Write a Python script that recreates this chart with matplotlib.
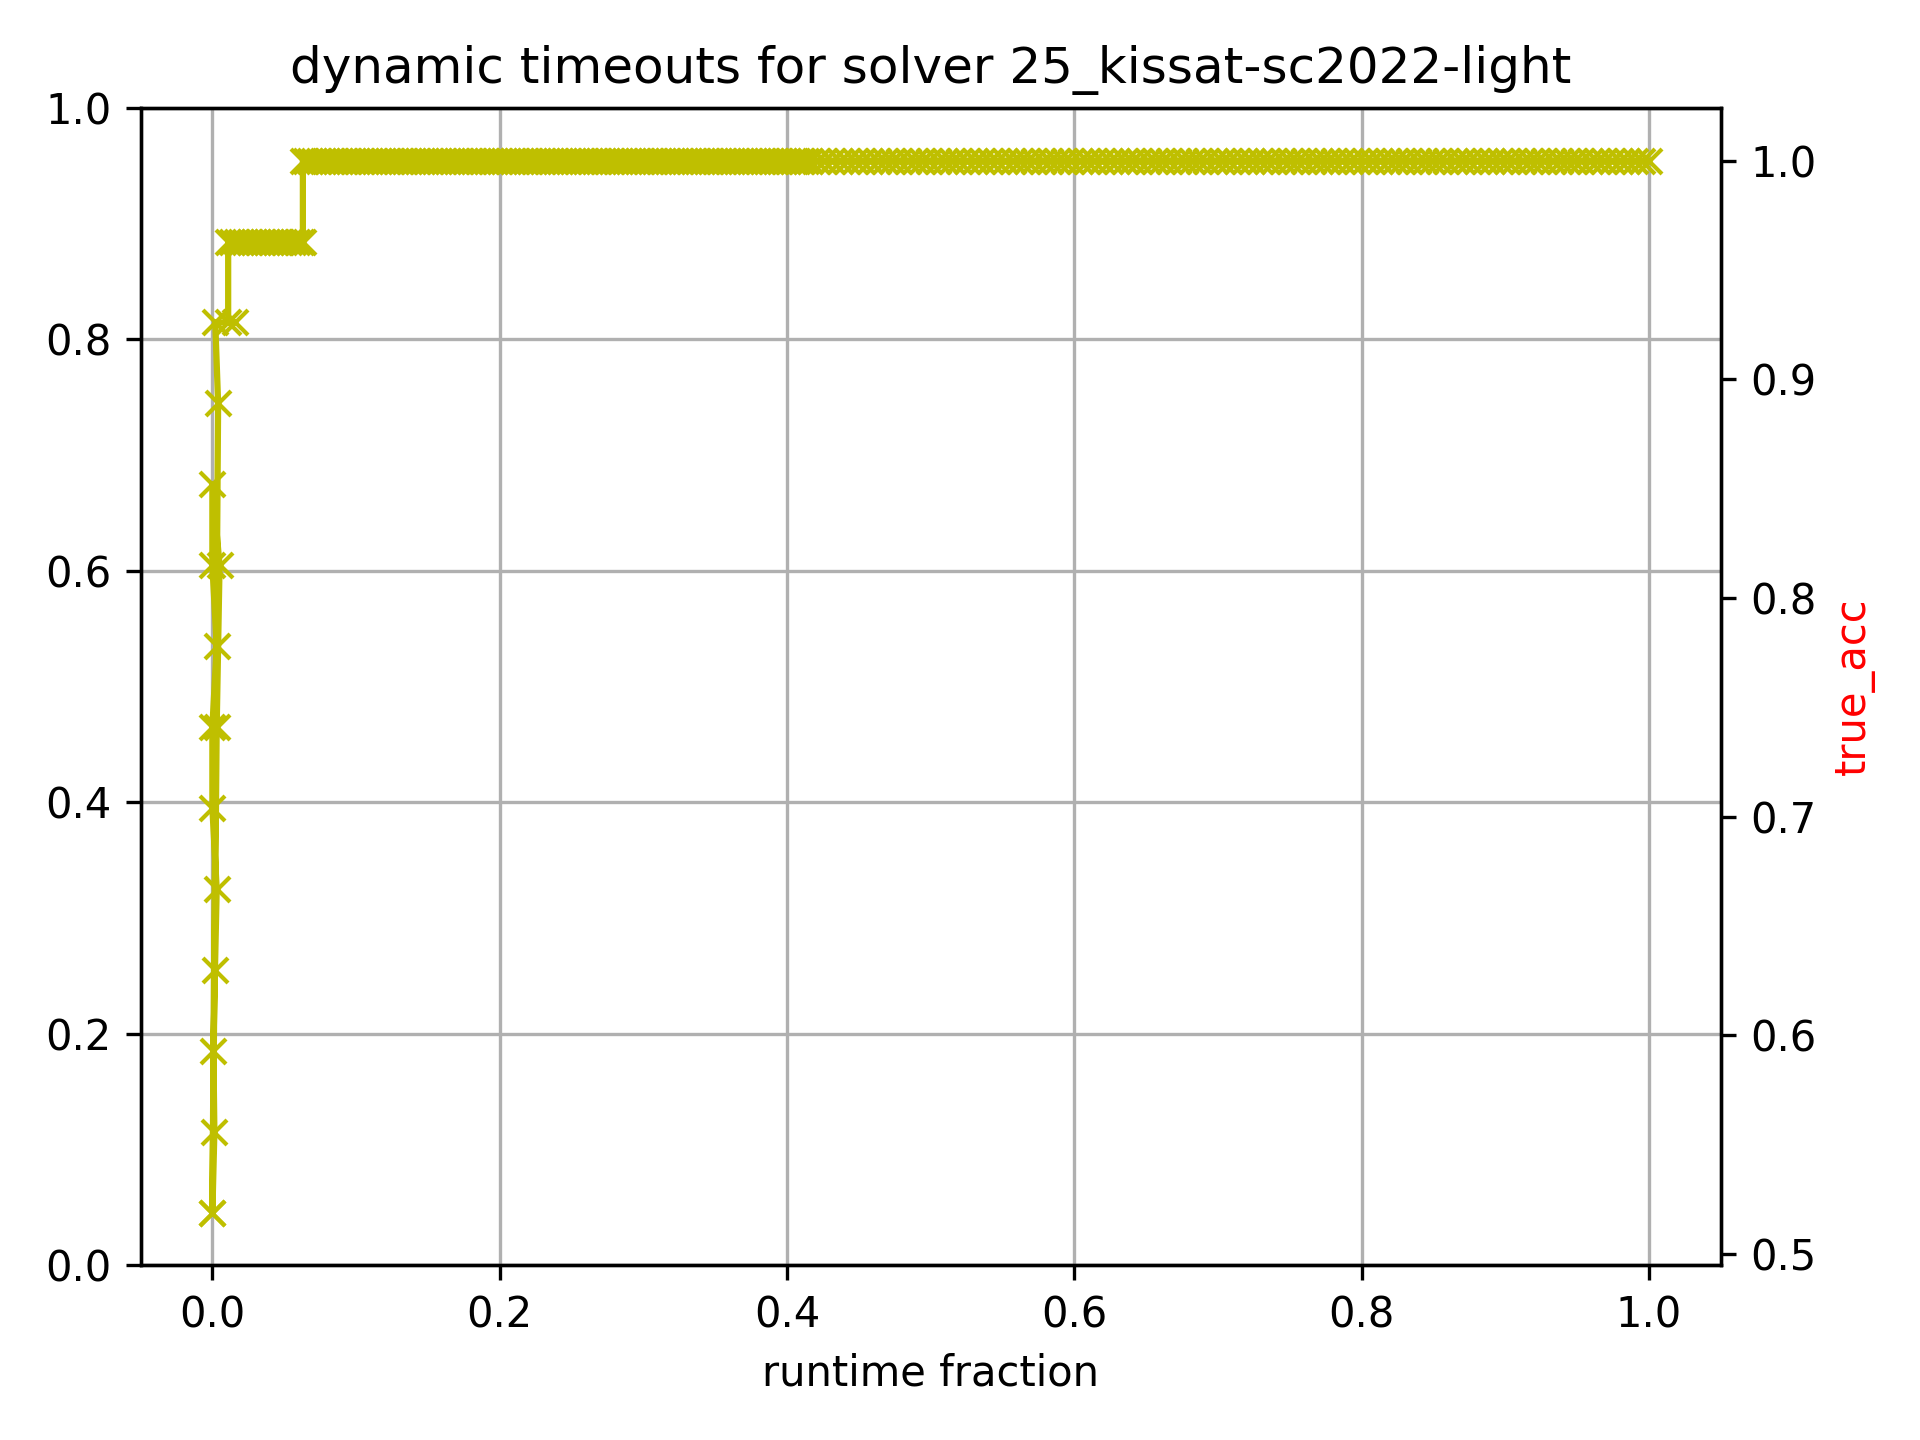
import numpy as np
import matplotlib
matplotlib.use("Agg")
import matplotlib.pyplot as plt

solver = "25_kissat-sc2022-light"

# early part: accuracy climbs while the runtime fraction stays close to 0
# (the points are not in x order, so the line runs up and down the column)
rise_frac = [0.000, 0.0014, 0.0007, 0.0018, 0.003, 0.000, 0.000, 0.003, 0.000, 0.000,
             0.005, 0.003, 0.000, 0.004, 0.002, 0.0155, 0.011]
rise_acc = [0.519, 0.556, 0.593, 0.630, 0.667, 0.704, 0.741, 0.778, 0.815, 0.852,
            0.815, 0.741, 0.519, 0.889, 0.926, 0.926, 0.926]

# plateau at 0.963
plat1_acc = 0.963
plat1_frac = [0.011, 0.014, 0.017, 0.020, 0.023, 0.026, 0.029, 0.032, 0.035, 0.038,
              0.041, 0.044, 0.047, 0.050, 0.053, 0.056, 0.059, 0.062, 0.063]

# plateau at 1.0 (dense part, then sparser points up to 1.0)
plat2_acc = 1.0
plat2_frac = [
    0.063, 0.065, 0.068, 0.071, 0.074, 0.077, 0.080, 0.083, 0.086, 0.089, 0.092, 0.095,
    0.098, 0.101, 0.104, 0.107, 0.110, 0.113, 0.116, 0.119, 0.122, 0.125, 0.128, 0.131,
    0.134, 0.137, 0.140, 0.143, 0.146, 0.149, 0.152, 0.155, 0.158, 0.161, 0.164, 0.167,
    0.170, 0.173, 0.176, 0.179, 0.182, 0.185, 0.188, 0.191, 0.194, 0.197, 0.200, 0.203,
    0.206, 0.209, 0.212, 0.215, 0.218, 0.221, 0.224, 0.227, 0.230, 0.233, 0.236, 0.239,
    0.242, 0.245, 0.248, 0.251, 0.254, 0.257, 0.260, 0.263, 0.266, 0.269, 0.272, 0.275,
    0.278, 0.281, 0.284, 0.287, 0.290, 0.293, 0.296, 0.299, 0.302, 0.305, 0.308, 0.311,
    0.314, 0.317, 0.320, 0.323, 0.326, 0.329, 0.332, 0.335, 0.338, 0.341, 0.344, 0.347,
    0.350, 0.353, 0.356, 0.359, 0.362, 0.365, 0.368, 0.371, 0.374, 0.377, 0.380, 0.383,
    0.386, 0.389, 0.392, 0.395, 0.398, 0.401, 0.404, 0.407, 0.410, 0.413, 0.416,
    0.421, 0.426, 0.431, 0.437, 0.442, 0.447, 0.452, 0.458, 0.463, 0.468, 0.473, 0.478,
    0.484, 0.489, 0.494, 0.499, 0.505, 0.510, 0.515, 0.520, 0.525, 0.531, 0.536, 0.541,
    0.546, 0.552, 0.557, 0.562, 0.567, 0.572, 0.578, 0.583, 0.588, 0.593, 0.598, 0.604,
    0.609, 0.614, 0.619, 0.625, 0.630, 0.635, 0.640, 0.645, 0.651, 0.656, 0.661, 0.666,
    0.672, 0.677, 0.682, 0.687, 0.692, 0.698, 0.703, 0.708, 0.713, 0.719, 0.724, 0.729,
    0.734, 0.739, 0.745, 0.750, 0.755, 0.760, 0.766, 0.771, 0.776, 0.781, 0.786, 0.792,
    0.797, 0.802, 0.807, 0.813, 0.818, 0.823, 0.828, 0.833, 0.839, 0.844, 0.849, 0.854,
    0.859, 0.865, 0.870, 0.875, 0.880, 0.886, 0.891, 0.896, 0.901, 0.906, 0.912, 0.917,
    0.922, 0.927, 0.933, 0.938, 0.943, 0.948, 0.953, 0.959, 0.964, 0.969, 0.974, 0.980,
    0.985, 0.990, 0.995, 1.000]

x = np.concatenate([rise_frac, plat1_frac, plat2_frac])
y = np.concatenate([rise_acc,
                    np.full(len(plat1_frac), plat1_acc),
                    np.full(len(plat2_frac), plat2_acc)])

fig, ax = plt.subplots(figsize=(6.4, 4.8), dpi=300)
ax2 = ax.twinx()
ax2.plot(x, y, 'x-', color='y')
ax2.set_ylabel('true_acc', color='r')

ax.grid(True)
ax.set_xlabel('runtime fraction')
ax.set_title('dynamic timeouts for solver ' + solver)

fig.tight_layout()
fig.savefig('out.png', dpi=300)
